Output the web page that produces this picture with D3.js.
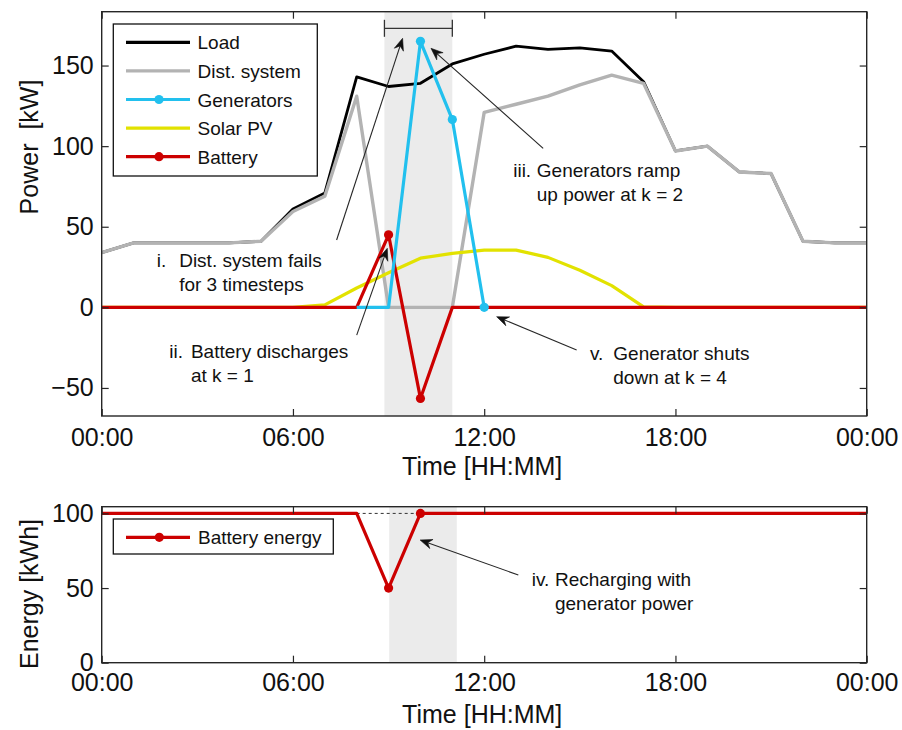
<!DOCTYPE html>
<html>
<head>
<meta charset="utf-8">
<script src="https://cdn.jsdelivr.net/npm/d3@7"></script>
<style>
  body { margin: 0; background: #fff; }
  text { font-family: "Liberation Sans", Arial, sans-serif; fill: #111; }
</style>
</head>
<body>
<svg id="chart" width="902" height="730"></svg>
<script>
// ---- data (hourly, 00:00 .. 24:00) ----
const hours = d3.range(0, 25);
const loadKW   = [34, 40, 40, 40, 40, 41, 61, 71, 143, 137, 139, 151, 157, 162, 160, 161, 159, 140, 97, 100, 84, 83, 41, 40, 40];
const distKW   = [34, 40, 40, 40, 40, 41, 59.5, 69, 131, 0, 0, 0, 121, 126, 131, 138, 144, 139, 97, 100, 84, 83, 41, 40, 40];
const genKW    = [null, null, null, null, null, null, null, null, 0, 0, 165, 116.5, 0, null, null, null, null, null, null, null, null, null, null, null, null];
const solarKW  = [0, 0, 0, 0, 0, 0, 0, 1.5, 12, 21.5, 30.5, 33.5, 35.5, 35.5, 31, 23, 13.5, 0.3, 0, 0, 0, 0, 0, 0, 0];
const batteryKW = [0, 0, 0, 0, 0, 0, 0, 0, 0, 45, -56.5, 0, 0, 0, 0, 0, 0, 0, 0, 0, 0, 0, 0, 0, 0];
const batteryKWh = [100, 100, 100, 100, 100, 100, 100, 100, 100, 50, 100, 100, 100, 100, 100, 100, 100, 100, 100, 100, 100, 100, 100, 100, 100];

// hours that carry a marker on each series
const genMarkerHours = [10, 11, 12];
const batteryMarkerHours = [9, 10];
const energyMarkerHours = [9, 10];

// outage window (hours) and the full-charge reference stretch
const outagePower = [8.87, 11.0];
const outageEnergy = [9.02, 11.14];
const fullChargeRef = [8, 10];

// axis ticks
const timeTicks = [0, 6, 12, 18, 24];
const timeTickLabels = ["00:00", "06:00", "12:00", "18:00", "00:00"];
const powerTicks = [-50, 0, 50, 100, 150];
const energyTicks = [0, 50, 100];

// legend entries
const powerSeries = [
  { name: "Load",         values: loadKW,    color: "#000000", width: 2.8, markers: [] },
  { name: "Dist. system", values: distKW,    color: "#b3b3b3", width: 3.4, markers: [] },
  { name: "Generators",   values: genKW,     color: "#22c0ee", width: 3.2, markers: genMarkerHours },
  { name: "Solar PV",     values: solarKW,   color: "#e2e200", width: 3.2, markers: [] },
  { name: "Battery",      values: batteryKW, color: "#cc0000", width: 3.2, markers: batteryMarkerHours }
];
// drawing order: later ones sit on top
const drawOrder = ["Load", "Dist. system", "Solar PV", "Battery", "Generators"];

// annotations (positions in data units)
const powerNotes = [
  { num: "i.",   numX: 1.73,  textX: 2.43,  y: 25.0,  lines: ["Dist. system fails", "for 3 timesteps"],   tail: [7.37, 41.8],  tip: [9.44, 166.9] },
  { num: "ii.",  numX: 2.12,  textX: 2.80,  y: -31.6, lines: ["Battery discharges", "at k = 1"],          tail: [8.0, -17.2],  tip: [8.96, 36.6] },
  { num: "iii.", numX: 12.91, textX: 13.65, y: 81.0,  lines: ["Generators ramp", "up power at k = 2"],    tail: [13.85, 98.6], tip: [10.33, 160.7] },
  { num: "v.",   numX: 15.32, textX: 16.05, y: -32.7, lines: ["Generator shuts", "down at k = 4"],        tail: [14.90, -26.5], tip: [12.39, -5.8] }
];
const energyNotes = [
  { num: "iv.",  numX: 13.49, textX: 14.22, y: 51.4,  lines: ["Recharging with", "generator power"],      tail: [13.07, 58.75], tip: [9.99, 82.2] }
];

// ---- layout ----
const svg = d3.select("#chart");
const plotLeft = 101.7, plotRight = 866.7;
const powerBox = { y0: 11.7, y1: 416 };
const energyBox = { y0: 506.7, y1: 662.7 };
const axisColor = "#262626";

const x = d3.scaleLinear().domain([0, 24]).range([plotLeft, plotRight]);
const yP = d3.scaleLinear().domain([-67.4, 183.4]).range([powerBox.y1, powerBox.y0]);
const yE = d3.scaleLinear().domain([0, 104.5]).range([energyBox.y1, energyBox.y0]);

function frameAndAxes(y, yTicks, labelPadX, labelPadY, xLabelY, yLabel, yLabelCenter) {
  const g = svg.append("g");
  const [y1, y0] = y.range();

  // bottom axis with labels, inward ticks on all four sides
  const xb = g.append("g").attr("transform", `translate(0,${y1})`)
    .call(d3.axisBottom(x).tickValues(timeTicks).tickSizeInner(-7).tickSizeOuter(0).tickPadding(labelPadY)
      .tickFormat((d, i) => timeTickLabels[i]));
  const xt = g.append("g").attr("transform", `translate(0,${y0})`)
    .call(d3.axisTop(x).tickValues(timeTicks).tickSizeInner(-7).tickSizeOuter(0).tickFormat(""));
  const yl = g.append("g").attr("transform", `translate(${plotLeft},0)`)
    .call(d3.axisLeft(y).tickValues(yTicks).tickSizeInner(-7).tickSizeOuter(0).tickPadding(labelPadX));
  const yr = g.append("g").attr("transform", `translate(${plotRight},0)`)
    .call(d3.axisRight(y).tickValues(yTicks).tickSizeInner(-7).tickSizeOuter(0).tickFormat(""));
  [xb, xt, yl, yr].forEach(a => {
    a.select(".domain").remove();
    a.selectAll("line").attr("stroke", axisColor).attr("stroke-width", 1.2);
    a.selectAll("text").style("font-size", "25px").style("font-family", '"Liberation Sans", Arial, sans-serif').attr("fill", "#111");
  });

  g.append("rect")
    .attr("x", plotLeft).attr("y", y0)
    .attr("width", plotRight - plotLeft).attr("height", y1 - y0)
    .attr("fill", "none").attr("stroke", axisColor).attr("stroke-width", 1.4);

  svg.append("text").attr("x", (plotLeft + plotRight) / 2 - 2).attr("y", xLabelY)
    .attr("text-anchor", "middle").style("font-size", "25px").text("Time [HH:MM]");
  svg.append("text")
    .attr("transform", `translate(38,${yLabelCenter}) rotate(-90)`)
    .attr("text-anchor", "middle").style("font-size", "25px").style("white-space", "pre")
    .text(yLabel);
  return g;
}

function arrow(g, x1, y1, x2, y2) {
  const ang = Math.atan2(y2 - y1, x2 - x1);
  const L = 12, W = 4.8, N = 8;
  const ux = Math.cos(ang), uy = Math.sin(ang);
  const px = -uy, py = ux;
  g.append("line").attr("x1", x1).attr("y1", y1)
    .attr("x2", x2 - ux * N).attr("y2", y2 - uy * N)
    .attr("stroke", "#262626").attr("stroke-width", 1.1);
  const pts = [
    [x2, y2],
    [x2 - ux * L + px * W, y2 - uy * L + py * W],
    [x2 - ux * N, y2 - uy * N],
    [x2 - ux * L - px * W, y2 - uy * L - py * W]
  ];
  g.append("path").attr("d", "M" + pts.map(p => p.join(",")).join("L") + "Z")
    .attr("fill", "#111").attr("stroke", "#111").attr("stroke-width", 0.6).attr("stroke-linejoin", "miter");
}

function notes(list, y) {
  const g = svg.append("g");
  list.forEach(n => {
    arrow(g, x(n.tail[0]), y(n.tail[1]), x(n.tip[0]), y(n.tip[1]));
    g.append("text").attr("x", x(n.numX)).attr("y", y(n.y)).style("font-size", "19px").text(n.num);
    n.lines.forEach((t, i) => {
      g.append("text").attr("x", x(n.textX)).attr("y", y(n.y) + i * 24)
        .style("font-size", "19px").text(t);
    });
  });
}

// ---- power panel ----
const pPlot = svg.append("g");
pPlot.append("rect")
  .attr("x", x(outagePower[0])).attr("y", powerBox.y0)
  .attr("width", x(outagePower[1]) - x(outagePower[0])).attr("height", powerBox.y1 - powerBox.y0)
  .attr("fill", "#ebebeb");

// bracket marking the outage window
const bY = yP(173.1);
const bracket = svg.append("g").attr("stroke", "#333").attr("stroke-width", 1.3);
bracket.append("line").attr("x1", x(outagePower[0])).attr("x2", x(outagePower[1])).attr("y1", bY).attr("y2", bY);
outagePower.forEach(h => bracket.append("line").attr("x1", x(h)).attr("x2", x(h)).attr("y1", bY - 8.5).attr("y2", bY + 8.5));

const powerLine = d3.line()
  .defined(d => d[1] != null)
  .x(d => x(d[0])).y(d => yP(d[1]));

drawOrder.forEach(name => {
  const s = powerSeries.find(p => p.name === name);
  const pts = hours.map((h, i) => [h, s.values[i]]);
  pPlot.append("path").attr("d", powerLine(pts))
    .attr("fill", "none").attr("stroke", s.color).attr("stroke-width", s.width)
    .attr("stroke-linejoin", "round");
  s.markers.forEach(h => {
    pPlot.append("circle").attr("cx", x(h)).attr("cy", yP(s.values[h])).attr("r", 4.6).attr("fill", s.color);
  });
});

frameAndAxes(yP, powerTicks, 8, 12, 475, "Power  [kW]", 147);

// legend
const lg = svg.append("g");
lg.append("rect").attr("x", 113.3).attr("y", 24).attr("width", 204).attr("height", 152)
  .attr("fill", "#fff").attr("stroke", "#111").attr("stroke-width", 1.3);
powerSeries.forEach((s, i) => {
  const cy = 42.3 + i * 28.6;
  lg.append("line").attr("x1", 126).attr("x2", 190).attr("y1", cy).attr("y2", cy)
    .attr("stroke", s.color).attr("stroke-width", 3.2);
  if (s.markers.length) lg.append("circle").attr("cx", 159).attr("cy", cy).attr("r", 4.6).attr("fill", s.color);
  lg.append("text").attr("x", 197.5).attr("y", cy + 7).style("font-size", "19px").text(s.name);
});

notes(powerNotes, yP);

// ---- energy panel ----
const ePlot = svg.append("g");
ePlot.append("rect")
  .attr("x", x(outageEnergy[0])).attr("y", energyBox.y0)
  .attr("width", x(outageEnergy[1]) - x(outageEnergy[0])).attr("height", energyBox.y1 - energyBox.y0)
  .attr("fill", "#ebebeb");
ePlot.append("line")
  .attr("x1", x(fullChargeRef[0])).attr("x2", x(fullChargeRef[1]))
  .attr("y1", yE(100)).attr("y2", yE(100))
  .attr("stroke", "#333").attr("stroke-width", 1).attr("stroke-dasharray", "3,3");
ePlot.append("path")
  .attr("d", d3.line().x(d => x(d[0])).y(d => yE(d[1]))(hours.map((h, i) => [h, batteryKWh[i]])))
  .attr("fill", "none").attr("stroke", "#cc0000").attr("stroke-width", 3.2).attr("stroke-linejoin", "round");
energyMarkerHours.forEach(h => {
  ePlot.append("circle").attr("cx", x(h)).attr("cy", yE(batteryKWh[h])).attr("r", 4.6).attr("fill", "#cc0000");
});

frameAndAxes(yE, energyTicks, 8, 10.5, 723, "Energy [kWh]", 594);

const lg2 = svg.append("g");
lg2.append("rect").attr("x", 113.3).attr("y", 519).attr("width", 220).attr("height", 35)
  .attr("fill", "#fff").attr("stroke", "#111").attr("stroke-width", 1.3);
lg2.append("line").attr("x1", 126).attr("x2", 190).attr("y1", 537.3).attr("y2", 537.3)
  .attr("stroke", "#cc0000").attr("stroke-width", 3.2);
lg2.append("circle").attr("cx", 159.3).attr("cy", 537.3).attr("r", 4.6).attr("fill", "#cc0000");
lg2.append("text").attr("x", 198).attr("y", 544).style("font-size", "19px").text("Battery energy");

notes(energyNotes, yE);
</script>
</body>
</html>
